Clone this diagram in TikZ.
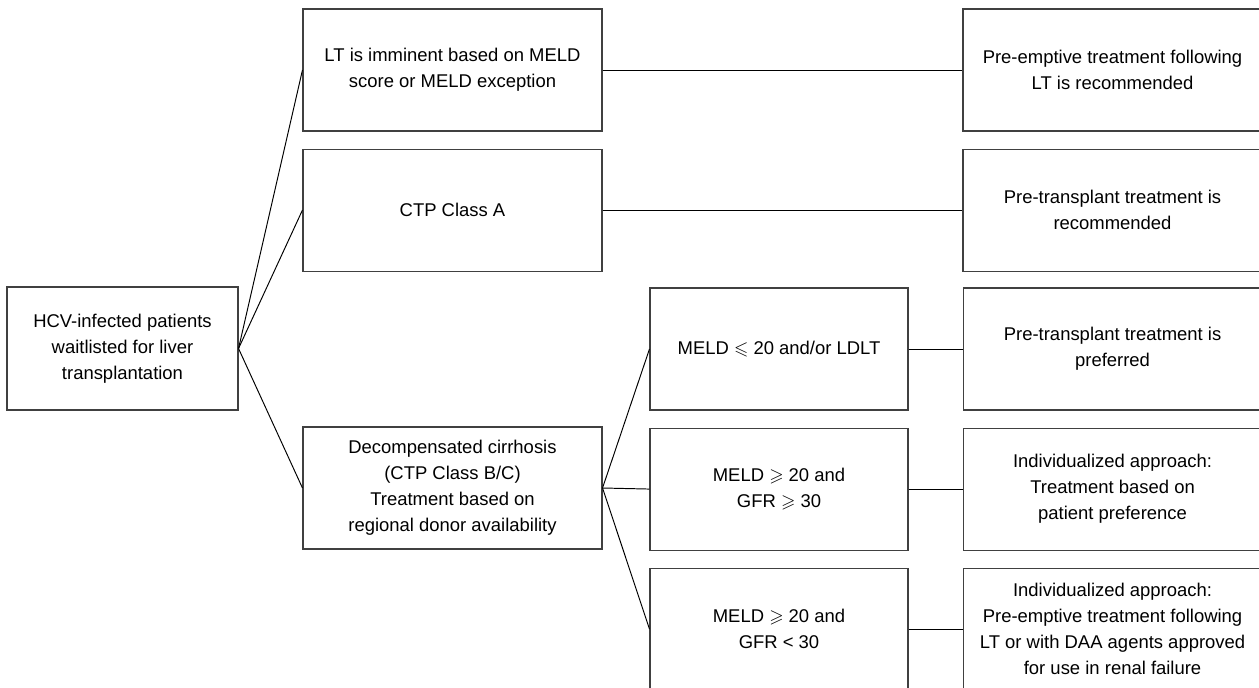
\documentclass[tikz,border=0pt]{standalone}
\usepackage{amsmath,amssymb}
\usepackage{fontspec}
\setmainfont{Liberation Sans}
\usepackage{tikz}
\usetikzlibrary{positioning}

\begin{document}
\begin{tikzpicture}[
    node distance=0.34cm,
    every node/.style={font=\fontsize{10.5}{14.8}\selectfont},
    start/.style={rectangle, draw=black!75, line width=0.6pt, align=center, minimum width=4.62cm, minimum height=2.46cm},
    block/.style={rectangle, draw=black!75, line width=0.6pt, align=center, minimum width=5.98cm, minimum height=2.44cm},
    meld/.style={rectangle, draw=black!75, line width=0.6pt, align=center, minimum width=5.16cm, minimum height=2.44cm},
    advice/.style={rectangle, draw=black!75, line width=0.6pt, align=center, minimum width=5.98cm, minimum height=2.44cm},
    link/.style={draw=black, line width=0.55pt}
]
\useasboundingbox (0,0) rectangle (25.18,-13.74);

\node [start] (hcv) at (2.45,-6.97) {HCV-infected patients\\waitlisted for liver\\transplantation};

\node [block] (lt) at (9.05,-1.40) {LT is imminent based on MELD\\score or MELD exception};
\node [block, below=of lt] (ctp) {CTP Class A};
\node [block] (decomp) at (9.05,-9.76) {Decompensated cirrhosis\\(CTP Class B/C)\\Treatment based on\\regional donor availability};

\node [meld] (meldlow) at (15.58,-6.98) {MELD $\leqslant$ 20 and/or LDLT};
\node [meld, below=of meldlow] (meldhigh) {MELD $\geqslant$ 20 and\\GFR $\geqslant$ 30};
\node [meld, below=of meldhigh] (meldrenal) {MELD $\geqslant$ 20 and\\GFR {\textless} 30};

\node [advice] (preempt) at (22.25,-1.40) {Pre-emptive treatment following\\LT is recommended};
\node [advice, below=of preempt] (pretx) {Pre-transplant treatment is\\recommended};
\node [advice, right=1.08cm of meldlow] (pretxpref) {Pre-transplant treatment is\\preferred};
\node [advice, right=1.08cm of meldhigh] (indiv) {Individualized approach:\\Treatment based on\\patient preference};
\node [advice, right=1.08cm of meldrenal] (indivrenal) {Individualized approach:\\Pre-emptive treatment following\\LT or with DAA agents approved\\for use in renal failure};

\draw [link] (hcv.east) -- (lt.west);
\draw [link] (hcv.east) -- (ctp.west);
\draw [link] (hcv.east) -- (decomp.west);

\draw [link] (decomp.east) -- (meldlow.west);
\draw [link] (decomp.east) -- (meldhigh.west);
\draw [link] (decomp.east) -- (meldrenal.west);

\draw [link] (lt.east) -- (preempt.west);
\draw [link] (ctp.east) -- (pretx.west);
\draw [link] (meldlow.east) -- (pretxpref.west);
\draw [link] (meldhigh.east) -- (indiv.west);
\draw [link] (meldrenal.east) -- (indivrenal.west);

\end{tikzpicture}
\end{document}
